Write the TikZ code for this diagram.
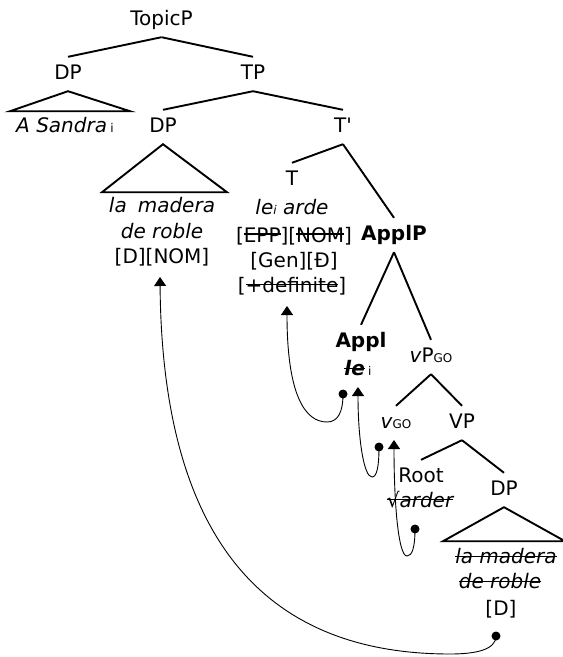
\documentclass[tikz,border=0pt]{standalone}
\usepackage{fontspec}
\setmainfont{DejaVu Sans}
\usetikzlibrary{arrows.meta}
% struck-through text: optional argument is the height of the bar
\newcommand{\strk}[2][0.3em]{\setbox0=\hbox{#2}\rlap{\rule[#1]{\wd0}{1.4pt}}\box0}
% small index letters set on the baseline
\newcommand{\idx}[1]{{\fontsize{12}{12}\selectfont #1}}
\begin{document}
\begin{tikzpicture}[x=1pt,y=-1pt,
  lbl/.style={font=\fontsize{20}{25}\selectfont, anchor=base, inner sep=7pt,
    text height=15pt, text depth=5pt},
  branch/.style={line width=1.9pt, line join=miter},
  move/.style={line width=0.9pt, -{Triangle[width=12pt,length=9pt]}},
  trace/.style={fill=black}]
\useasboundingbox (0,0) rectangle (563,657);

% ---- labels of the tree
\node[lbl] (topic) at (161.5,25) {TopicP};
\node[lbl] (dpA) at (68,79) {DP};
\node[lbl] (tp) at (253,79) {TP};
\node[lbl] (sandra) at (65,132) {\itshape A Sandra\,\idx{\upshape i}};
\node[lbl] (dpB) at (163,132) {DP};
\node[lbl] (tbar) at (343,132) {T\textquotesingle};
\node[lbl] (madera1) at (162,212) {\itshape la\hspace{0.55em}madera};
\node[lbl] (roble1) at (162,238) {\itshape de roble};
\node[lbl] (dnom) at (162,263) {[D][NOM]};
\node[lbl] (tnode) at (292,185) {T};
\node[lbl] (leiarde) at (292,214) {\itshape le\idx{i} arde};
\node[lbl] (epp) at (294,242) {[\strk[0.36em]{EPP}][\strk[0.36em]{NOM}]};
\node[lbl] (gen) at (294,267) {[Gen][Đ]};
\node[lbl] (defin) at (292,292) {[\strk[0.33em]{+definite}]};
\node[lbl] (applp) at (394,240) {\bfseries ApplP};
\node[lbl] (appl) at (361,347) {\bfseries Appl};
\node[lbl] (applle) at (358,375) {\strk{\bfseries\itshape le}\,\idx{i}};
\node[lbl] (vp) at (431,362) {{\itshape v}P\idx{GO}};
\node[lbl] (vgo) at (396,428) {{\itshape v}\idx{GO}};
\node[lbl] (vpbig) at (462,428) {VP};
\node[lbl] (root) at (421,482) {Root};
\node[lbl] (sqrt) at (420,507) {\strk[0.35em]{√{\itshape arder}}};
\node[lbl] (dpC) at (504,495) {DP};
\node[lbl] (madera2) at (506,563) {\strk{\itshape la madera}};
\node[lbl] (roble2) at (500,588) {\strk{\itshape de roble}};
\node[lbl] (dd) at (501,615) {[D]};

% ---- branches
\draw[branch] (topic.south) -- (dpA.north);
\draw[branch] (topic.south) -- (tp.north);
\draw[branch] (tp.south) -- (dpB.north);
\draw[branch] (tp.south) -- (tbar.north);
\draw[branch] (tbar.south) -- (tnode.north);
\draw[branch] (tbar.south) -- (applp.north);
\draw[branch] (applp.south) -- (appl.north);
\draw[branch] (applp.south) -- (vp.north);
\draw[branch] (vp.south) -- (vgo.north);
\draw[branch] (vp.south) -- (vpbig.north);
\draw[branch] (vpbig.south) -- (root.north);
\draw[branch] (vpbig.south) -- (dpC.north);

% ---- triangles over unanalysed phrases
\draw[branch] (dpA.south) -- ++(-58,20) -- ++(120,0) -- cycle;
\draw[branch] (dpB.south) -- ++(-61,48) -- ++(125,0) -- cycle;
\draw[branch] (dpC.south) -- ++(-61,34) -- ++(122,0) -- cycle;

% ---- movement arrows
\coordinate (tipNOM) at (160,277);
\coordinate (dotD) at (496,636);
\coordinate (tip1) at (287,306);
\coordinate (dot1) at (343,394);
\coordinate (tip2) at (358,387);
\coordinate (dot2) at (379,447);
\coordinate (tip3) at (394,440);
\coordinate (dot3) at (415,529);

\draw[move] (dotD) .. controls (496,650) and (475,654) .. (450,654)
  .. controls (250,654) and (162,520) .. (tipNOM);
\draw[move] (dot1) .. controls (343,412) and (338,422) .. (327,422)
  .. controls (305,422) and (287,395) .. (tip1);
\draw[move] (dot2) .. controls (379,466) and (377,477) .. (372,477)
  .. controls (364,477) and (358,440) .. (tip2);
\draw[move] (dot3) .. controls (415,548) and (412,556) .. (407,556)
  .. controls (398,556) and (394,500) .. (tip3);

\foreach \d in {dotD,dot1,dot2,dot3} \fill[trace] (\d) circle (4.5pt);
\end{tikzpicture}
\end{document}
